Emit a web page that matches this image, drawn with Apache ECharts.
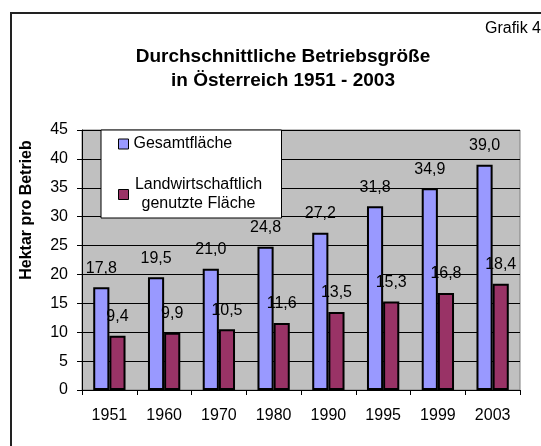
<!DOCTYPE html>
<html>
<head>
<meta charset="utf-8">
<script src="https://cdn.jsdelivr.net/npm/echarts@6/dist/echarts.min.js"></script>
<style>
  html, body { margin: 0; padding: 0; background: #fff; }
  #chart { width: 541px; height: 446px; }
</style>
</head>
<body>
<div id="chart"></div>
<script>
// Daten
const jahre = ['1951', '1960', '1970', '1980', '1990', '1995', '1999', '2003']
const gesamtflaeche = [17.8, 19.5, 21.0, 24.8, 27.2, 31.8, 34.9, 39.0]
const landwFlaeche = [9.4, 9.9, 10.5, 11.6, 13.5, 15.3, 16.8, 18.4]
const yTicks = { min: 0, max: 45, interval: 5 }

const FONT = '"Liberation Sans", Arial, sans-serif'
const komma = p => p.value.toFixed(1).replace('.', ',')

const chart = echarts.init(document.getElementById('chart'))

const barLabel = {
  show: true,
  position: 'top',
  distance: 11,
  color: '#000',
  fontSize: 16,
  fontFamily: FONT,
  formatter: komma
}

chart.setOption({
  animation: false,
  textStyle: { fontFamily: FONT },
  title: {
    text: 'Durchschnittliche Betriebsgröße\nin Österreich 1951 - 2003',
    left: 283,
    top: 45,
    padding: 0,
    textAlign: 'center',
    textStyle: {
      fontSize: 19,
      fontWeight: 'bold',
      color: '#000',
      lineHeight: 24,
      fontFamily: FONT
    }
  },
  graphic: [
    // äußerer Rahmen
    {
      type: 'rect',
      shape: { x: 11, y: 13, width: 700, height: 700 },
      style: { fill: 'none', stroke: '#222', lineWidth: 2 },
      silent: true
    },
    {
      type: 'text',
      left: 485,
      top: 21,
      style: { text: 'Grafik 4', fill: '#000', font: '16px ' + FONT }
    },
    {
      type: 'text',
      x: 27,
      y: 210,
      rotation: Math.PI / 2,
      style: {
        text: 'Hektar pro Betrieb',
        font: 'bold 16px ' + FONT,
        fill: '#000',
        textAlign: 'center',
        textVerticalAlign: 'middle'
      }
    }
  ],
  legend: {
    orient: 'vertical',
    left: 101,
    top: 130,
    padding: [6, 18, 6, 17],
    itemGap: 25,
    itemWidth: 10,
    itemHeight: 10,
    backgroundColor: '#fff',
    borderColor: '#000',
    borderWidth: 1,
    borderRadius: 0,
    icon: 'rect',
    itemStyle: { borderColor: '#000', borderWidth: 1 },
    textStyle: {
      fontSize: 16,
      color: '#000',
      fontFamily: FONT,
      rich: {
        t: { fontSize: 16, width: 130, align: 'center', lineHeight: 19, fontFamily: FONT }
      }
    },
    formatter: name => name.indexOf('\n') >= 0
      ? name.split('\n').map(s => '{t|' + s + '}').join('\n')
      : name,
    data: ['Gesamtfläche', 'Landwirtschaftlich\ngenutzte Fläche']
  },
  grid: {
    left: 82,
    right: 21,
    top: 130,
    bottom: 56,
    show: true,
    backgroundColor: '#c0c0c0',
    borderColor: '#808080',
    borderWidth: 1
  },
  xAxis: {
    type: 'category',
    data: jahre,
    axisLine: { lineStyle: { color: '#000', width: 1 } },
    axisTick: { show: true, length: 5, lineStyle: { color: '#000' } },
    axisLabel: { color: '#000', fontSize: 16, margin: 18, fontFamily: FONT }
  },
  yAxis: {
    type: 'value',
    min: yTicks.min,
    max: yTicks.max,
    interval: yTicks.interval,
    axisLine: { show: true, lineStyle: { color: '#000', width: 1 } },
    axisTick: { show: true, length: 5, lineStyle: { color: '#000' } },
    axisLabel: { color: '#000', fontSize: 16, margin: 14, fontFamily: FONT },
    splitLine: { show: true, lineStyle: { color: '#000', width: 1 } }
  },
  series: [
    {
      name: 'Gesamtfläche',
      type: 'bar',
      data: gesamtflaeche,
      barGap: '0%',
      barCategoryGap: '41%',
      itemStyle: { color: '#9999ff', borderColor: '#000', borderWidth: 2 },
      label: barLabel
    },
    {
      name: 'Landwirtschaftlich\ngenutzte Fläche',
      type: 'bar',
      data: landwFlaeche,
      itemStyle: { color: '#993366', borderColor: '#000', borderWidth: 2 },
      label: barLabel
    }
  ]
})
</script>
</body>
</html>
